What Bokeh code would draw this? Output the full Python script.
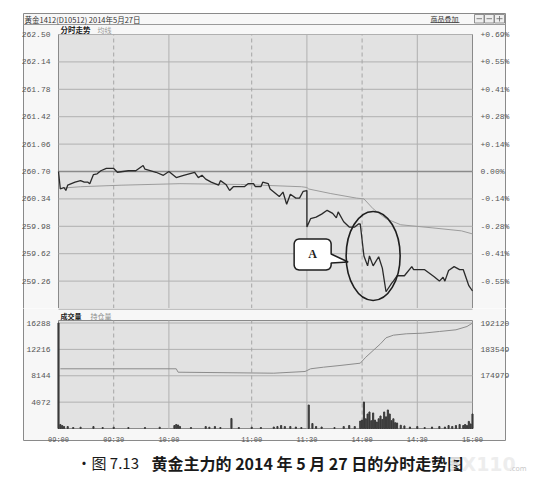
import math
from bokeh.plotting import figure
from bokeh.layouts import column
from bokeh.models import Range1d, LinearAxis, FixedTicker, NumeralTickFormatter
from bokeh.embed import file_html
from bokeh.resources import INLINE
from bokeh.core.properties import value

# ---------------- data ----------------
TITLE = "黄金1412(D10512) 2014年5月27日"
OVERLAY = "商品叠加"
PANEL1 = ["分时走势", "均线"]
PANEL2 = ["成交量", "持仓量"]
CAPTION_NO = "•图 7.13"
CAPTION = "黄金主力的 2014 年 5 月 27 日的分时走势图"
WATERMARK = ["FX110", ".com"]

PREV_CLOSE = 260.70
PRICE_LOW, PRICE_HIGH = 258.90, 262.50
PRICE_TICKS = [262.50, 262.14, 261.78, 261.42, 261.06, 260.70, 260.34, 259.98, 259.62, 259.26]
PCT_LABELS = ["+0.69%", "+0.55%", "+0.41%", "+0.28%", "+0.14%", "0.00%",
              "-0.14%", "-0.28%", "-0.41%", "-0.55%"]

TIME_TICKS = ["09:00", "09:30", "10:00", "11:00", "11:30", "14:00", "14:30", "15:00"]
SOLID_TIMES = ["10:00", "11:30", "14:30"]
DASH_TIMES = ["09:30", "11:00", "14:00"]

PRICE_T = ["09:00", "09:01", "09:03", "09:04", "09:05", "09:09", "09:12", "09:14", "09:16", "09:17",
           "09:19", "09:21", "09:23", "09:26", "09:30", "09:32", "09:35", "09:38", "09:42", "09:46",
           "09:47", "09:53", "09:57", "10:00", "10:04", "10:08", "10:14", "10:31", "10:33", "10:35",
           "10:38", "10:42", "10:43", "10:46", "10:48", "10:50", "10:56", "10:58", "11:01", "11:02",
           "11:05", "11:06", "11:09", "11:10", "11:13", "11:15", "11:17", "11:19", "11:21", "11:24",
           "11:26", "11:28", "11:30", "13:30", "13:32", "13:35", "13:38", "13:41", "13:44", "13:46",
           "13:47", "13:50", "13:53", "13:56", "13:58", "13:59", "14:01", "14:03", "14:04", "14:06",
           "14:09", "14:11", "14:13", "14:16", "14:17", "14:19", "14:23", "14:27", "14:28", "14:34",
           "14:39", "14:42", "14:44", "14:45", "14:47", "14:50", "14:53", "14:55", "14:58", "15:00"]
PRICE_V = [260.70, 260.47, 260.49, 260.45, 260.52, 260.56, 260.58, 260.56, 260.56, 260.54,
           260.66, 260.67, 260.71, 260.74, 260.74, 260.69, 260.70, 260.71, 260.71, 260.78,
           260.73, 260.69, 260.65, 260.70, 260.62, 260.65, 260.69, 260.62, 260.65, 260.60,
           260.56, 260.52, 260.58, 260.53, 260.45, 260.50, 260.50, 260.54, 260.54, 260.50,
           260.50, 260.56, 260.54, 260.47, 260.41, 260.37, 260.43, 260.27, 260.40, 260.35,
           260.35, 260.44, 260.45, 259.97, 260.08, 260.10, 260.14, 260.19, 260.15, 260.09,
           260.17, 260.04, 259.97, 259.97, 260.01, 260.01, 259.59, 259.46, 259.59, 259.46,
           259.58, 259.43, 259.12, 259.23, 259.26, 259.33, 259.33, 259.45, 259.41, 259.41,
           259.32, 259.26, 259.31, 259.26, 259.40, 259.45, 259.41, 259.41, 259.20, 259.13]

AVG_T = ["09:01", "09:12", "09:34", "10:06", "10:54", "11:27", "11:30", "13:31", "13:43", "13:57",
         "14:01", "14:06", "14:13", "14:21", "14:38", "14:54", "15:00"]
AVG_V = [260.48, 260.50, 260.52, 260.54, 260.53, 260.50, 260.49, 260.47, 260.41, 260.35,
         260.34, 260.21, 260.08, 260.00, 259.96, 259.92, 259.88]

VOL_TOP = 16288
VOL_TICKS = [4072, 8144, 12216, 16288]
VOL_T = ["09:00", "09:01", "09:02", "09:03", "09:05", "09:08", "09:12", "09:19", "09:24", "09:30",
         "09:38", "09:47", "09:55", "10:03", "10:04", "10:05", "10:06", "10:12", "10:35", "10:37",
         "10:40", "10:43", "10:49", "10:53", "11:00", "11:05", "11:12", "11:14", "11:16", "11:18",
         "11:21", "11:24", "11:27", "13:31", "13:33", "13:35", "13:38", "13:45", "13:50", "13:53",
         "13:56", "13:59", "14:00", "14:01", "14:02", "14:03", "14:04", "14:05", "14:06", "14:07",
         "14:08", "14:09", "14:10", "14:11", "14:12", "14:13", "14:14", "14:15", "14:16", "14:17",
         "14:18", "14:19", "14:21", "14:23", "14:26", "14:30", "14:34", "14:38", "14:42", "14:45",
         "14:47", "14:49", "14:51", "14:53", "14:55", "14:56", "14:57", "14:58", "14:59", "15:00"]
VOL_V = [16288, 620, 460, 310, 300, 150, 200, 300, 150, 200,
         150, 150, 200, 460, 620, 540, 310, 150, 300, 200,
         300, 150, 1550, 150, 200, 150, 230, 310, 460, 300,
         310, 230, 150, 3630, 770, 310, 230, 150, 300, 460,
         300, 1150, 1300, 4090, 1500, 2240, 2550, 1200, 2400, 1300,
         1000, 1500, 1930, 1400, 2550, 1800, 2860, 2240, 1200, 1500,
         900, 850, 500, 400, 230, 300, 150, 230, 310, 230,
         460, 310, 460, 620, 460, 620, 460, 1100, 700, 2240]

OI_TICKS = [174979, 183549, 192120]
OI_T = ["09:01", "10:04", "10:05", "11:12", "11:29", "13:32", "13:39", "13:48", "13:59", "14:02",
        "14:06", "14:10", "14:13", "14:17", "14:24", "14:33", "14:42", "14:51", "14:57", "15:00"]
OI_V = [177240, 177240, 176130, 175810, 176360, 177240, 177760, 178310, 179060, 181000,
        183180, 185360, 187310, 188160, 188610, 188810, 189360, 189910, 190980, 192100]

CALLOUT_TEXT = "A"
CALLOUT_T, CALLOUT_P = "14:06", 259.59   # centre of the ringed drop


def sess(t):
    h, m = map(int, t.split(":"))
    mins = h * 60 + m
    if mins <= 10 * 60 + 15:
        return mins - 540
    if mins <= 11 * 60 + 30:
        return mins - 630 + 75
    return mins - 810 + 135


T_END = sess("15:00")

# ---------------- page geometry (page pixels) ----------------
FIG_W = 528
PAGE_X0 = 0
PLOT_L, PLOT_R = 58, 472          # plot area, both panels
P_Y0, P_TOP, P_BOT = 0, 34, 308   # price figure top, plot top, plot bottom
V_Y0, V_TOP, V_BOT, V_Y1 = 308, 320, 428, 442
C_H = 36
BOX_L, BOX_R, BOX_T, BOX_B = 23, 505, 13, 440

XPM = (PLOT_R - PLOT_L) / T_END                  # px per minute
YPP = (PRICE_HIGH - PRICE_LOW) / (P_BOT - P_TOP)  # price per px
VOL_END = VOL_TOP * (V_BOT - V_TOP) / (V_BOT - V_TOP - 2.5)
VPP = VOL_END / (V_BOT - V_TOP)                  # volume per px
OI_STEP = OI_TICKS[2] - OI_TICKS[1]
OI_PER_VOL = OI_STEP / VOL_TICKS[0]
OI_BASE = OI_TICKS[2] - 4 * OI_STEP


def X(px):
    return (px - PLOT_L) / XPM


def Y(py):
    return PRICE_HIGH - (py - P_TOP) * YPP


def VY(py):
    return (V_BOT - py) * VPP


X_RANGE = (X(PAGE_X0), X(PAGE_X0 + FIG_W))

GRID_C = "#b0b0b0"
PLOT_BG = "#e2e2e2"
BOX_BG = "#f7f7f7"
EDGE_C = "#8a8a8a"
LBL_C = "#555555"
MONO = "Liberation Mono"
CJK = "Noto Sans CJK SC"


def base_fig(height, y0, y1):
    f = figure(width=FIG_W, height=height, x_range=Range1d(*X_RANGE), y_range=Range1d(y0, y1),
               toolbar_location=None, output_backend="svg", min_border=0,
               x_axis_location=None, y_axis_location=None)
    f.grid.visible = False
    f.outline_line_color = None
    f.background_fill_color = "white"
    f.border_fill_color = "white"
    return f


def style_axis(ax, size="8px", standoff=2):
    ax.axis_line_color = None
    ax.major_tick_line_color = None
    ax.minor_tick_line_color = None
    ax.major_label_standoff = standoff
    ax.major_label_text_font = MONO
    ax.major_label_text_font_size = size
    ax.major_label_text_color = LBL_C


def vlines(f, lo, hi):
    xs = [sess(t) for t in SOLID_TIMES]
    f.segment(x0=xs, x1=xs, y0=[lo] * len(xs), y1=[hi] * len(xs), line_color=GRID_C, line_width=1)
    xd = [sess(t) for t in DASH_TIMES]
    f.segment(x0=xd, x1=xd, y0=[lo] * len(xd), y1=[hi] * len(xd), line_color="#a6a6a6",
              line_width=1, line_dash="4 3")


# ---------------- price figure (with header rows) ----------------
p = base_fig(P_BOT - P_Y0, Y(P_BOT), Y(P_Y0))
p.quad(left=[X(BOX_L)], right=[X(BOX_R)], top=[Y(BOX_T)], bottom=[Y(P_BOT + 2)],
       fill_color=BOX_BG, line_color=EDGE_C, line_width=1)
p.segment(x0=[X(BOX_L)], x1=[X(BOX_R)], y0=[Y(24)], y1=[Y(24)], line_color="#9a9a9a")
p.quad(left=[0], right=[T_END], bottom=[PRICE_LOW], top=[PRICE_HIGH],
       fill_color=PLOT_BG, line_color=EDGE_C, line_width=1)
p.segment(x0=[0] * len(PRICE_TICKS), x1=[T_END] * len(PRICE_TICKS), y0=PRICE_TICKS, y1=PRICE_TICKS,
          line_color=GRID_C, line_width=1)
vlines(p, PRICE_LOW, PRICE_HIGH)
p.segment(x0=[0], x1=[T_END], y0=[PREV_CLOSE], y1=[PREV_CLOSE], line_color="#8a8a8a", line_width=1.6)

# header texts
p.text(x=[X(24)], y=[Y(18.5)], text=[TITLE], text_font=value(CJK), text_font_size="7.5px",
       text_baseline="middle", text_color="#333333")
p.text(x=[X(430)], y=[Y(18)], text=[OVERLAY], text_font=value(CJK), text_font_size="7px",
       text_baseline="middle", text_color="#333333")
p.segment(x0=[X(430)], x1=[X(459)], y0=[Y(22)], y1=[Y(22)], line_color="#444444", line_width=0.8)
icon_l = [X(474), X(484), X(494)]
icon_r = [X(483.5), X(493.5), X(504)]
p.quad(left=icon_l, right=icon_r, top=[Y(14)] * 3, bottom=[Y(22.5)] * 3,
       fill_color="#eeeeee", line_color="#777777", line_width=0.8)
p.segment(x0=[X(476), X(486), X(496), X(499)], x1=[X(481.5), X(491.5), X(502), X(499)],
          y0=[Y(18.2), Y(18.2), Y(18.2), Y(15.5)], y1=[Y(18.2), Y(18.2), Y(18.2), Y(21)],
          line_color="#666666", line_width=0.8)
p.text(x=[X(60)], y=[Y(29)], text=[PANEL1[0]], text_font=value(CJK), text_font_size="7.5px",
       text_font_style="bold", text_baseline="middle", text_color="#222222")
p.text(x=[X(97)], y=[Y(29)], text=[PANEL1[1]], text_font=value(CJK), text_font_size="7px",
       text_baseline="middle", text_color="#9a9a9a")

# axes fixed on the plot-area edges
ly = LinearAxis(fixed_location=0, ticker=FixedTicker(ticks=PRICE_TICKS),
                formatter=NumeralTickFormatter(format="0.00"))
style_axis(ly)
p.add_layout(ly, "left")
ry = LinearAxis(fixed_location=T_END, ticker=FixedTicker(ticks=PRICE_TICKS),
                major_label_overrides={t: l for t, l in zip(PRICE_TICKS, PCT_LABELS)})
style_axis(ry)
p.add_layout(ry, "right")

# series
p.line(x=[sess(t) for t in AVG_T], y=AVG_V, line_color="#9c9c9c", line_width=1)
p.line(x=[sess(t) for t in PRICE_T], y=PRICE_V, line_color="#2a2a2a", line_width=1.3)

# ringed area and callout
cx, cy = sess(CALLOUT_T), CALLOUT_P
p.ellipse(x=[cx], y=[cy], width=[54], height=[89], width_units="screen", height_units="screen",
          fill_color=None, line_color="#1e1e1e", line_width=1.6)
pts = []
l, r, t, b, rad = -79, -42, -17, 14, 5


def arc(ax_, ay_, a0, a1):
    for k in range(5):
        a = math.radians(a0 + (a1 - a0) * k / 4)
        pts.append((ax_ + rad * math.cos(a), ay_ + rad * math.sin(a)))


arc(l + rad, t + rad, 180, 270)
arc(r - rad, t + rad, 270, 360)
pts += [(r, -2), (-25, 6), (r, 7)]
arc(r - rad, b - rad, 0, 90)
arc(l + rad, b - rad, 90, 180)
p.patch(x=[cx + dx / XPM for dx, dy in pts], y=[cy - dy * YPP for dx, dy in pts],
        fill_color="white", line_color="#1e1e1e", line_width=1.5)
p.text(x=[cx + (l + r) / 2 / XPM], y=[cy - ((t + b) / 2) * YPP], text=[CALLOUT_TEXT],
       text_font=value("Liberation Serif"), text_font_style="bold", text_font_size="12px",
       text_align="center", text_baseline="middle", text_color="#1e1e1e")

# ---------------- volume figure ----------------
v = base_fig(V_Y1 - V_Y0, VY(V_Y1), VY(V_Y0))
v.extra_y_ranges = {"oi": Range1d(OI_BASE + VY(V_Y1) * OI_PER_VOL, OI_BASE + VY(V_Y0) * OI_PER_VOL)}
v.quad(left=[X(BOX_L)], right=[X(BOX_R)], top=[VY(V_Y0 - 2)], bottom=[VY(BOX_B)],
       fill_color=BOX_BG, line_color=EDGE_C, line_width=1)
v.segment(x0=[0], x1=[T_END], y0=[VY(V_Y0 + 0.5)], y1=[VY(V_Y0 + 0.5)], line_color=EDGE_C)
v.quad(left=[0], right=[T_END], bottom=[0], top=[VOL_END],
       fill_color=PLOT_BG, line_color=EDGE_C, line_width=1)
v.segment(x0=[0] * len(VOL_TICKS), x1=[T_END] * len(VOL_TICKS), y0=VOL_TICKS, y1=VOL_TICKS,
          line_color=GRID_C, line_width=1)
vlines(v, 0, VOL_END)
v.text(x=[X(60)], y=[VY(315)], text=[PANEL2[0]], text_font=value(CJK), text_font_size="7px",
       text_font_style="bold", text_baseline="middle", text_color="#222222")
v.text(x=[X(90)], y=[VY(315)], text=[PANEL2[1]], text_font=value(CJK), text_font_size="7px",
       text_baseline="middle", text_color="#8a8a8a")

vl = LinearAxis(fixed_location=0, ticker=FixedTicker(ticks=VOL_TICKS))
style_axis(vl)
v.add_layout(vl, "left")
vr = LinearAxis(fixed_location=T_END, y_range_name="oi", ticker=FixedTicker(ticks=OI_TICKS),
                formatter=NumeralTickFormatter(format="0"))
style_axis(vr)
v.add_layout(vr, "right")
vx = LinearAxis(fixed_location=0, ticker=FixedTicker(ticks=[sess(t) for t in TIME_TICKS]),
                major_label_overrides={sess(t): t for t in TIME_TICKS})
style_axis(vx, "7px", 1)
v.add_layout(vx, "below")

v.vbar(x=[sess(t) for t in VOL_T], top=VOL_V, width=0.6, color="#3a3a3a")
v.line(x=[sess(t) for t in OI_T], y=OI_V, y_range_name="oi", line_color="#8c8c8c", line_width=1)

# ---------------- caption ----------------
c = figure(width=FIG_W, height=C_H, x_range=Range1d(PAGE_X0, PAGE_X0 + FIG_W),
           y_range=Range1d(V_Y1 + C_H, V_Y1), toolbar_location=None, output_backend="svg",
           min_border=0, x_axis_location=None, y_axis_location=None)
c.grid.visible = False
c.outline_line_color = None
c.background_fill_color = "white"
c.border_fill_color = "white"
c.text(x=[76], y=[462], text=[CAPTION_NO], text_font=value(CJK), text_font_size="15px",
       text_baseline="middle", text_color="#1a1a1a")
c.text(x=[151], y=[462], text=[CAPTION], text_font=value(CJK), text_font_size="16px",
       text_font_style="bold", text_baseline="middle", text_color="#1a1a1a")
c.text(x=[448], y=[463], text=[WATERMARK[0]], text_font=value("DejaVu Sans"), text_font_size="19px",
       text_font_style="bold", text_baseline="middle", text_color="#ececec", text_alpha=0.92)
c.text(x=[509], y=[468], text=[WATERMARK[1]], text_font=value("DejaVu Sans"), text_font_size="7px",
       text_baseline="middle", text_color="#c8c8c8")

layout = column(p, v, c)
open("out.html", "w").write(file_html(layout, INLINE))
